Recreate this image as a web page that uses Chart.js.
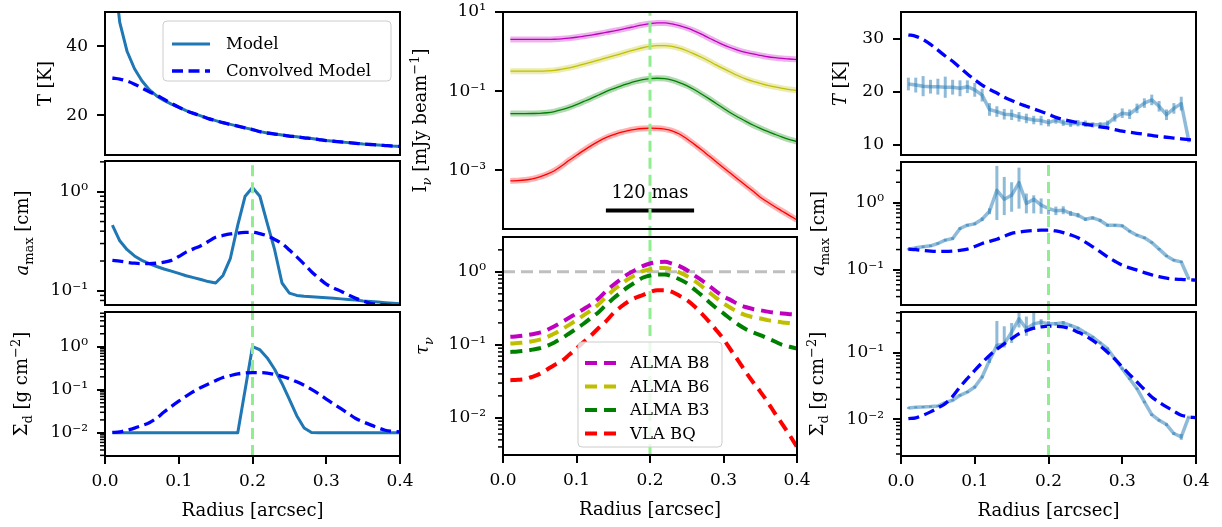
<!DOCTYPE html>
<html lang="en">
<head>
<meta charset="UTF-8">
<title>Ring model profiles</title>
<script src="https://cdn.jsdelivr.net/npm/chart.js"></script>
<style>
  body { margin: 0; background: #fff; width: 1222px; height: 527px; position: relative; overflow: hidden; }
  canvas { position: absolute; }
</style>
</head>
<body>
<script>
// radius grid of the model [arcsec]
const radius = [0.01, 0.02, 0.03, 0.04, 0.05, 0.06, 0.07, 0.08, 0.09, 0.10,
  0.11, 0.12, 0.13, 0.14, 0.15, 0.16, 0.17, 0.18, 0.19, 0.20,
  0.21, 0.22, 0.23, 0.24, 0.25, 0.26, 0.27, 0.28, 0.29, 0.30,
  0.31, 0.32, 0.33, 0.34, 0.35, 0.36, 0.37, 0.38, 0.39, 0.40];
// radius grid of the fitted profiles
const radiusFit = radius.slice(0, 39);

// temperature [K]
const tModel = [66, 47, 38.5, 33.5, 30.0, 27.4, 25.6, 24.3, 23.2, 22.3,
  21.3, 20.5, 19.8, 19.0, 18.4, 17.8, 17.3, 16.8, 16.3, 15.8,
  15.2, 14.8, 14.5, 14.2, 13.9, 13.7, 13.4, 13.2, 12.9, 12.6,
  12.4, 12.2, 12.0, 11.8, 11.6, 11.45, 11.3, 11.15, 11.0, 10.9];
const tConv = [30.8, 30.5, 29.9, 29.0, 27.9, 26.8, 25.8, 24.6, 23.4, 22.3,
  21.3, 20.5, 19.8, 19.0, 18.4, 17.8, 17.3, 16.8, 16.3, 15.8,
  15.2, 14.8, 14.5, 14.2, 13.9, 13.7, 13.4, 13.2, 12.9, 12.6,
  12.4, 12.2, 12.0, 11.8, 11.6, 11.45, 11.3, 11.15, 11.0, 10.9];

// maximum grain size [cm]
const aModel = [0.46, 0.32, 0.26, 0.225, 0.203, 0.188, 0.176, 0.166, 0.158, 0.15,
  0.142, 0.136, 0.13, 0.124, 0.12, 0.143, 0.213, 0.46, 0.9, 1.1,
  0.9, 0.48, 0.26, 0.12, 0.095, 0.09, 0.088, 0.087, 0.086, 0.085,
  0.084, 0.083, 0.082, 0.081, 0.079, 0.078, 0.077, 0.076, 0.075, 0.074];
const aConv = [0.203, 0.199, 0.194, 0.19, 0.188, 0.188, 0.19, 0.195, 0.203, 0.222,
  0.246, 0.265, 0.285, 0.315, 0.347, 0.362, 0.375, 0.383, 0.388, 0.39,
  0.378, 0.358, 0.33, 0.299, 0.258, 0.22, 0.186, 0.156, 0.134, 0.117,
  0.107, 0.099, 0.091, 0.084, 0.079, 0.075, 0.073, 0.072, 0.071, 0.0703];

// dust surface density [g cm^-2]
const sModel = [0.01, 0.01, 0.01, 0.01, 0.01, 0.01, 0.01, 0.01, 0.01, 0.01,
  0.01, 0.01, 0.01, 0.01, 0.01, 0.01, 0.01, 0.01, 0.1, 1.0,
  0.85, 0.55, 0.3, 0.14, 0.06, 0.025, 0.013, 0.0102, 0.01, 0.01,
  0.01, 0.01, 0.01, 0.01, 0.01, 0.01, 0.01, 0.01, 0.01, 0.01];
const sConv = [0.0102, 0.0105, 0.0115, 0.0129, 0.0148, 0.0172, 0.022, 0.0305, 0.041, 0.0543,
  0.071, 0.0912, 0.113, 0.136, 0.163, 0.193, 0.214, 0.234, 0.245, 0.251,
  0.25, 0.245, 0.228, 0.204, 0.18, 0.153, 0.127, 0.102, 0.08, 0.061,
  0.047, 0.0363, 0.028, 0.0216, 0.018, 0.0153, 0.0132, 0.0115, 0.0109, 0.0105];

// intensity [mJy/beam]
const iB8 = [2.03, 2.03, 2.03, 2.03, 2.03, 2.03, 2.05, 2.1, 2.18, 2.3,
  2.45, 2.62, 2.82, 3.05, 3.3, 3.6, 3.95, 4.35, 4.75, 5.1,
  5.3, 5.3, 5.0, 4.5, 3.95, 3.35, 2.75, 2.2, 1.8, 1.48,
  1.25, 1.08, 0.96, 0.87, 0.8, 0.74, 0.7, 0.67, 0.65, 0.63];
const iB6 = [0.32, 0.32, 0.32, 0.32, 0.32, 0.325, 0.335, 0.36, 0.39, 0.43,
  0.48, 0.54, 0.61, 0.69, 0.78, 0.88, 1.0, 1.12, 1.25, 1.35,
  1.41, 1.42, 1.36, 1.22, 1.05, 0.88, 0.72, 0.58, 0.46, 0.37,
  0.3, 0.245, 0.205, 0.178, 0.158, 0.14, 0.128, 0.118, 0.11, 0.105];
const iB3 = [0.0272, 0.0272, 0.0272, 0.0273, 0.0276, 0.0285, 0.0305, 0.034, 0.039, 0.046,
  0.055, 0.066, 0.08, 0.097, 0.115, 0.135, 0.155, 0.176, 0.195, 0.207,
  0.212, 0.208, 0.19, 0.165, 0.138, 0.11, 0.085, 0.065, 0.049, 0.037,
  0.028, 0.022, 0.0175, 0.014, 0.0115, 0.0096, 0.0081, 0.0069, 0.006, 0.0053];
const iBQ = [0.00054, 0.00055, 0.00057, 0.00061, 0.00068, 0.0008, 0.00098, 0.0013, 0.0018, 0.0024,
  0.0032, 0.0042, 0.0054, 0.0067, 0.0079, 0.0091, 0.0101, 0.0109, 0.0114, 0.0116,
  0.0115, 0.011, 0.01, 0.0083, 0.0063, 0.0046, 0.0033, 0.00234, 0.00166, 0.00117,
  0.00083, 0.00059, 0.00042, 0.0003, 0.00021, 0.000158, 0.00012, 0.000093, 0.000072, 0.000056];

// optical depth
const tauB8 = [0.129, 0.131, 0.135, 0.14, 0.147, 0.16, 0.18, 0.205, 0.235, 0.269,
  0.31, 0.36, 0.43, 0.54, 0.66, 0.79, 0.93, 1.06, 1.2, 1.3,
  1.36, 1.37, 1.3, 1.2, 1.06, 0.9, 0.77, 0.65, 0.54, 0.46,
  0.41, 0.36, 0.33, 0.31, 0.298, 0.285, 0.275, 0.268, 0.263, 0.26];
const tauB6 = [0.104, 0.106, 0.108, 0.112, 0.118, 0.128, 0.143, 0.163, 0.188, 0.218,
  0.255, 0.3, 0.36, 0.45, 0.56, 0.67, 0.79, 0.9, 1.02, 1.08,
  1.12, 1.13, 1.08, 0.98, 0.88, 0.76, 0.64, 0.53, 0.44, 0.37,
  0.32, 0.28, 0.255, 0.24, 0.23, 0.218, 0.21, 0.203, 0.199, 0.196];
const tauB3 = [0.08, 0.081, 0.083, 0.086, 0.09, 0.097, 0.108, 0.123, 0.143, 0.167,
  0.196, 0.235, 0.28, 0.35, 0.43, 0.52, 0.62, 0.72, 0.83, 0.89,
  0.92, 0.92, 0.87, 0.79, 0.7, 0.58, 0.48, 0.39, 0.32, 0.27,
  0.225, 0.19, 0.165, 0.148, 0.136, 0.123, 0.111, 0.1, 0.094, 0.089];
const tauBQ = [0.0328, 0.0332, 0.034, 0.0365, 0.04, 0.046, 0.053, 0.06, 0.073, 0.089,
  0.11, 0.135, 0.17, 0.21, 0.27, 0.33, 0.39, 0.44, 0.48, 0.53,
  0.56, 0.56, 0.53, 0.47, 0.41, 0.34, 0.27, 0.21, 0.16, 0.12,
  0.085, 0.061, 0.043, 0.031, 0.0229, 0.0165, 0.0115, 0.0082, 0.0058, 0.004];

// fitted profiles with uncertainties
const tFit = [21.5, 21.3, 21.1, 21.0, 21.0, 20.9, 20.9, 20.7, 21.0, 20.4,
  19.4, 16.7, 16.3, 15.8, 15.7, 15.3, 15.0, 14.7, 14.6, 14.2,
  14.7, 14.2, 14.0, 14.1, 14.0, 13.8, 13.8, 14.0, 15.2, 16.0,
  15.8, 16.9, 17.9, 18.5, 17.3, 15.7, 16.9, 17.8, 10.9];
const tFitErr = [1.2, 1.4, 1.9, 1.3, 1.5, 2.0, 1.4, 1.5, 1.2, 1.3,
  1.2, 1.2, 1.0, 1.0, 1.0, 0.9, 0.9, 0.8, 0.9, 0.7,
  0.7, 0.6, 0.6, 0.6, 0.6, 0.5, 0.5, 0.6, 0.8, 0.9,
  0.9, 0.9, 0.9, 1.0, 1.0, 1.0, 1.0, 1.3, 0.4];
const aFit = [0.203, 0.212, 0.22, 0.227, 0.246, 0.276, 0.292, 0.411, 0.46, 0.482,
  0.565, 0.743, 1.52, 1.12, 1.28, 1.98, 0.97, 1.12, 0.913, 0.814,
  0.752, 0.77, 0.687, 0.648, 0.565, 0.592, 0.541, 0.46, 0.46, 0.45,
  0.375, 0.327, 0.299, 0.255, 0.203, 0.161, 0.139, 0.131, 0.0743];
const aFitLo = [0.195, 0.204, 0.211, 0.218, 0.236, 0.264, 0.279, 0.39, 0.44, 0.46,
  0.53, 0.67, 0.55, 0.65, 0.73, 0.81, 0.69, 0.69, 0.68, 0.66,
  0.65, 0.67, 0.63, 0.6, 0.535, 0.56, 0.515, 0.44, 0.44, 0.43,
  0.36, 0.314, 0.287, 0.245, 0.195, 0.155, 0.134, 0.126, 0.071];
const aFitHi = [0.211, 0.22, 0.229, 0.236, 0.256, 0.288, 0.305, 0.43, 0.48, 0.505,
  0.6, 0.82, 3.5, 2.4, 2.0, 3.3, 1.36, 1.28, 1.15, 0.98,
  0.87, 0.88, 0.75, 0.7, 0.595, 0.62, 0.57, 0.48, 0.48, 0.47,
  0.39, 0.34, 0.311, 0.265, 0.211, 0.167, 0.144, 0.136, 0.077];
const sFit = [0.0148, 0.0151, 0.0153, 0.0155, 0.0158, 0.0178, 0.0193, 0.0229, 0.0257, 0.0305,
  0.0432, 0.0767, 0.129, 0.136, 0.204, 0.324, 0.229, 0.272, 0.288, 0.272,
  0.272, 0.282, 0.257, 0.234, 0.2, 0.172, 0.141, 0.115, 0.0813, 0.0575,
  0.0407, 0.0288, 0.0182, 0.0117, 0.00966, 0.0083, 0.0061, 0.00543, 0.0108];
const sFitLo = [0.0143, 0.0146, 0.0148, 0.015, 0.0153, 0.0172, 0.0186, 0.022, 0.0247, 0.029,
  0.041, 0.07, 0.115, 0.12, 0.14, 0.24, 0.18, 0.22, 0.26, 0.25,
  0.255, 0.265, 0.245, 0.224, 0.192, 0.165, 0.135, 0.11, 0.078, 0.055,
  0.039, 0.0276, 0.0174, 0.0112, 0.0092, 0.0079, 0.0058, 0.0049, 0.0103];
const sFitHi = [0.0153, 0.0156, 0.0158, 0.016, 0.0163, 0.0184, 0.02, 0.0238, 0.0267, 0.032,
  0.0455, 0.084, 0.3, 0.25, 0.28, 0.45, 0.35, 0.45, 0.32, 0.3,
  0.29, 0.3, 0.27, 0.245, 0.208, 0.179, 0.147, 0.12, 0.085, 0.06,
  0.0425, 0.03, 0.019, 0.0122, 0.0101, 0.0087, 0.0064, 0.006, 0.0113];

const xTicks = [0.0, 0.1, 0.2, 0.3, 0.4];
const ringRadius = 0.2;
const scaleBarX = [0.14, 0.26];   // 120 mas
const scaleBarY = 9.7e-5;

const SERIF = '"DejaVu Serif", serif';
const TAB_BLUE = '#1f77b4';
const SUP = { '-': '\u207b', '0': '\u2070', '1': '\u00b9', '2': '\u00b2', '3': '\u00b3' };
const pow10Label = v => '10' + String(Math.round(Math.log10(v))).split('').map(c => SUP[c]).join('');

function line(xs, ys, color, width, dash, smooth) {
  return {
    data: xs.map((x, i) => ({ x: x, y: ys[i] })),
    borderColor: color, borderWidth: width, borderDash: dash || [],
    pointRadius: 0, fill: false, tension: 0,
    cubicInterpolationMode: smooth ? 'monotone' : 'default',
    borderCapStyle: 'butt', borderJoinStyle: 'round'
  };
}
// ring marker; runs a few px below the axes so it bridges the gap to the panel underneath
const vline = (lo, hi) => Object.assign(line([ringRadius, ringRadius], [lo, hi], '#90ee90', 3, [11, 6]), { clip: false });
const modelLine = ys => line(radius, ys, TAB_BLUE, 3, null, false);
const convLine = ys => line(radius, ys, '#0000ff', 3.3, [11, 5.5], true);
const fitLine = ys => line(radiusFit, ys, 'rgba(31,119,180,0.5)', 3.5, null, false);

// one entry per axes box
const panels = [
  { id: 'lT', x0: 105, y0: 12, w: 295, h: 143, bottom: false,
    y: { type: 'linear', min: 8.4, max: 50, ticks: [20, 40] },
    title: [{ t: 'T [K]' }], titleX: -60,
    datasets: [convLine(tConv), modelLine(tModel)],
    legend: { x: 58, y: 9, w: 228, h: 60, lx: [9, 47], tx: 63, rows: [
      { y: 23, label: 'Model', color: TAB_BLUE, width: 3, dash: [] },
      { y: 50, label: 'Convolved Model', color: '#0000ff', width: 3.3, dash: [11, 5.5] }] } },
  { id: 'lA', x0: 105, y0: 161, w: 295, h: 144, bottom: false,
    y: { type: 'logarithmic', min: 0.072, max: 2.04, ticks: [0.1, 1], minor: true },
    title: [{ t: 'a', it: true }, { t: 'max', sub: true }, { t: ' [cm]' }], titleX: -83,
    datasets: [vline(0.061, 2.04), convLine(aConv), modelLine(aModel)] },
  { id: 'lS', x0: 105, y0: 312, w: 295, h: 144, bottom: true,
    y: { type: 'logarithmic', min: 0.0029, max: 6.4, ticks: [0.01, 0.1, 1], minor: true },
    title: [{ t: '\u03a3' }, { t: 'd', sub: true }, { t: ' [g cm' }, { t: '\u22122', sup: true }, { t: ']' }], titleX: -84,
    datasets: [vline(0.0029, 6.4), convLine(sConv), modelLine(sModel)] },
  { id: 'mI', x0: 503, y0: 12, w: 294, h: 217, bottom: false,
    y: { type: 'logarithmic', min: 3.3e-5, max: 10, ticks: [0.001, 0.1, 10], minor: false },
    title: [{ t: 'I' }, { t: '\u03bd', sub: true, it: true }, { t: ' [mJy beam' }, { t: '\u22121', sup: true }, { t: ']' }], titleX: -83,
    notes: [{ text: '120 mas', x: 0.2, y: 2.6e-4, size: 18 }],
    datasets: [
      vline(2.1e-5, 10),
      line(scaleBarX, [scaleBarY, scaleBarY], '#000', 4),
      line(radius, iB8, '#bf00bf', 1.3, null, true),
      line(radius, iB6, '#bfbf00', 1.3, null, true),
      line(radius, iB3, '#008000', 1.3, null, true),
      line(radius, iBQ, '#ff0000', 1.3, null, true),
      line(radius, iB8, 'rgba(191,0,191,0.3)', 6, null, true),
      line(radius, iB6, 'rgba(191,191,0,0.3)', 6, null, true),
      line(radius, iB3, 'rgba(0,128,0,0.3)', 6, null, true),
      line(radius, iBQ, 'rgba(255,0,0,0.3)', 6, null, true)] },
  { id: 'mT', x0: 503, y0: 237, w: 294, h: 218, bottom: true,
    y: { type: 'logarithmic', min: 0.0031, max: 3, ticks: [0.01, 0.1, 1], minor: true },
    title: [{ t: '\u03c4', it: true }, { t: '\u03bd', sub: true, it: true }], titleX: -81,
    datasets: [
      line(radius, tauB8, '#bf00bf', 4, [12, 7], true),
      line(radius, tauB6, '#bfbf00', 4, [12, 7], true),
      line(radius, tauB3, '#008000', 4, [12, 7], true),
      line(radius, tauBQ, '#ff0000', 4, [12, 7], true),
      vline(0.0031, 3),
      line([0, 0.4], [1, 1], 'rgba(128,128,128,0.5)', 3, [12, 6])],
    legend: { x: 75, y: 105, w: 144, h: 105, lx: [7, 40], tx: 52, rows: [
      { y: 21, label: 'ALMA B8', color: '#bf00bf', width: 4, dash: [12, 7] },
      { y: 44.5, label: 'ALMA B6', color: '#bfbf00', width: 4, dash: [12, 7] },
      { y: 68, label: 'ALMA B3', color: '#008000', width: 4, dash: [12, 7] },
      { y: 91.5, label: 'VLA BQ', color: '#ff0000', width: 4, dash: [12, 7] }] } },
  { id: 'rT', x0: 901, y0: 12, w: 295, h: 143, bottom: false,
    y: { type: 'linear', min: 8.1, max: 35.1, ticks: [10, 20, 30] },
    title: [{ t: 'T', it: true }, { t: ' [K]' }], titleX: -61,
    err: { x: radiusFit, lo: tFit.map((v, i) => v - tFitErr[i]), hi: tFit.map((v, i) => v + tFitErr[i]) },
    datasets: [convLine(tConv), fitLine(tFit)] },
  { id: 'rA', x0: 901, y0: 162, w: 295, h: 143, bottom: false,
    y: { type: 'logarithmic', min: 0.03, max: 4.0, ticks: [0.1, 1], minor: true },
    title: [{ t: 'a', it: true }, { t: 'max', sub: true }, { t: ' [cm]' }], titleX: -83,
    err: { x: radiusFit, lo: aFitLo, hi: aFitHi },
    datasets: [vline(0.0236, 4.0), convLine(aConv), fitLine(aFit)] },
  { id: 'rS', x0: 901, y0: 312, w: 295, h: 144, bottom: true,
    y: { type: 'logarithmic', min: 0.0028, max: 0.41, ticks: [0.01, 0.1], minor: true },
    title: [{ t: '\u03a3' }, { t: 'd', sub: true }, { t: ' [g cm' }, { t: '\u22122', sup: true }, { t: ']' }], titleX: -84,
    err: { x: radiusFit, lo: sFitLo, hi: sFitHi },
    datasets: [vline(0.0028, 0.41), convLine(sConv), fitLine(sFit)] }
];

const extras = {};

function drawRich(ctx, segs, cx, cy, size, rotate) {
  ctx.save();
  ctx.translate(cx, cy);
  if (rotate) ctx.rotate(-Math.PI / 2);
  const fontFor = s => (s.it ? 'italic ' : '') + ((s.sub || s.sup) ? Math.round(size * 0.7) : size) + 'px ' + SERIF;
  let total = 0;
  const widths = segs.map(s => { ctx.font = fontFor(s); const w = ctx.measureText(s.t).width; total += w; return w; });
  let x = -total / 2;
  ctx.fillStyle = '#000';
  ctx.textAlign = 'left';
  ctx.textBaseline = 'alphabetic';
  segs.forEach((s, i) => {
    ctx.font = fontFor(s);
    const dy = s.sub ? size * 0.25 : s.sup ? -size * 0.42 : 0;
    ctx.fillText(s.t, x, size * 0.35 + dy);
    x += widths[i];
  });
  ctx.restore();
}

const decor = {
  id: 'decor',
  beforeDatasetsDraw(chart) {
    const p = extras[chart.canvas.id];
    if (!p.err) return;
    const ctx = chart.ctx, a = chart.chartArea;
    const xs = chart.scales.x, ys = chart.scales.y;
    ctx.save();
    ctx.beginPath();
    ctx.rect(a.left, a.top, a.right - a.left, a.bottom - a.top);
    ctx.clip();
    ctx.strokeStyle = 'rgba(31,119,180,0.5)';
    ctx.lineWidth = 3;
    p.err.x.forEach((x, i) => {
      const px = xs.getPixelForValue(x);
      ctx.beginPath();
      ctx.moveTo(px, ys.getPixelForValue(p.err.lo[i]));
      ctx.lineTo(px, ys.getPixelForValue(p.err.hi[i]));
      ctx.stroke();
    });
    ctx.restore();
  },
  afterDraw(chart) {
    const p = extras[chart.canvas.id];
    const ctx = chart.ctx, a = chart.chartArea;
    const xs = chart.scales.x, ys = chart.scales.y;

    // minor ticks on log axes
    if (p.y.minor) {
      ctx.save();
      ctx.strokeStyle = '#000';
      ctx.lineWidth = 1.5;
      const e0 = Math.floor(Math.log10(p.y.min)), e1 = Math.ceil(Math.log10(p.y.max));
      for (let e = e0; e <= e1; e++) {
        for (let k = 2; k <= 9; k++) {
          const v = k * Math.pow(10, e);
          if (v <= p.y.min || v >= p.y.max) continue;
          const py = ys.getPixelForValue(v);
          ctx.beginPath();
          ctx.moveTo(a.left - 5, py);
          ctx.lineTo(a.left, py);
          ctx.stroke();
        }
      }
      ctx.restore();
    }

    // axes frame
    ctx.save();
    ctx.strokeStyle = '#000';
    ctx.lineWidth = 2;
    ctx.strokeRect(a.left, a.top, a.right - a.left, a.bottom - a.top);
    ctx.restore();

    // axis titles
    drawRich(ctx, p.title, a.left + p.titleX, (a.top + a.bottom) / 2, 18, true);
    if (p.bottom) drawRich(ctx, [{ t: 'Radius [arcsec]' }], (a.left + a.right) / 2, a.bottom + 54, 18, false);

    // text placed in data coordinates
    (p.notes || []).forEach(n => {
      ctx.save();
      ctx.font = n.size + 'px ' + SERIF;
      ctx.fillStyle = '#000';
      ctx.textAlign = 'center';
      ctx.textBaseline = 'middle';
      ctx.fillText(n.text, xs.getPixelForValue(n.x), ys.getPixelForValue(n.y));
      ctx.restore();
    });

    // legend box
    if (p.legend) {
      const L = p.legend;
      const bx = a.left + L.x, by = a.top + L.y;
      ctx.save();
      ctx.beginPath();
      ctx.roundRect(bx, by, L.w, L.h, 4);
      ctx.fillStyle = 'rgba(255,255,255,0.8)';
      ctx.fill();
      ctx.strokeStyle = '#cccccc';
      ctx.lineWidth = 1;
      ctx.stroke();
      L.rows.forEach(r => {
        ctx.beginPath();
        ctx.setLineDash(r.dash);
        ctx.strokeStyle = r.color;
        ctx.lineWidth = r.width;
        ctx.moveTo(bx + L.lx[0], by + r.y);
        ctx.lineTo(bx + L.lx[1], by + r.y);
        ctx.stroke();
        ctx.setLineDash([]);
        ctx.font = '16.5px ' + SERIF;
        ctx.fillStyle = '#000';
        ctx.textAlign = 'left';
        ctx.textBaseline = 'middle';
        ctx.fillText(r.label, bx + L.tx, by + r.y + 1);
      });
      ctx.restore();
    }
  }
};

const PAD_T = 14, PAD_R = 20, PAD_B = 10, Y_W = 100, X_H = 70;

panels.forEach(p => {
  extras[p.id] = p;
  const cv = document.createElement('canvas');
  cv.id = p.id;
  cv.width = p.w + Y_W + PAD_R;
  cv.height = p.h + PAD_T + (p.bottom ? X_H : PAD_B);
  cv.style.left = (p.x0 - Y_W) + 'px';
  cv.style.top = (p.y0 - PAD_T) + 'px';
  document.body.appendChild(cv);

  const tickFont = { family: SERIF, size: 17 };
  new Chart(cv.getContext('2d'), {
    type: 'line',
    data: { datasets: p.datasets },
    options: {
      responsive: false,
      animation: false,
      devicePixelRatio: 1,
      events: [],
      layout: { padding: { left: 0, right: PAD_R, top: PAD_T, bottom: p.bottom ? 0 : PAD_B } },
      plugins: { legend: { display: false }, tooltip: { enabled: false } },
      scales: {
        x: {
          type: 'linear', min: 0, max: 0.4, display: p.bottom,
          afterBuildTicks: s => { s.ticks = xTicks.map(v => ({ value: v })); },
          afterFit: s => { s.height = p.bottom ? X_H : 0; s.paddingLeft = 0; s.paddingRight = 0; },
          ticks: { callback: v => v.toFixed(1), font: tickFont, color: '#000', padding: 7, maxRotation: 0, autoSkip: false },
          grid: { display: true, drawOnChartArea: false, drawTicks: true, tickLength: 8, color: '#000', lineWidth: 2 },
          border: { display: false }
        },
        y: {
          type: p.y.type, min: p.y.min, max: p.y.max,
          afterBuildTicks: s => { s.ticks = p.y.ticks.map(v => ({ value: v })); },
          afterFit: s => { s.width = Y_W; s.paddingTop = 0; s.paddingBottom = 0; },
          ticks: {
            callback: v => p.y.type === 'logarithmic' ? pow10Label(v) : String(v),
            font: tickFont, color: '#000', padding: 9, autoSkip: false
          },
          grid: { display: true, drawOnChartArea: false, drawTicks: true, tickLength: 8, color: '#000', lineWidth: 2 },
          border: { display: false }
        }
      }
    },
    plugins: [decor]
  });
});
</script>
</body>
</html>
